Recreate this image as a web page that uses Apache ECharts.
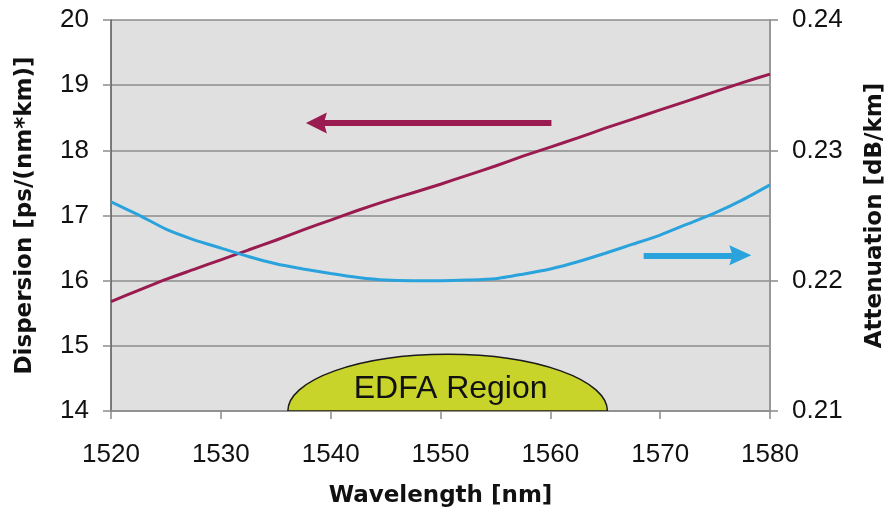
<!DOCTYPE html>
<html>
<head>
<meta charset="utf-8">
<script src="https://cdn.jsdelivr.net/npm/echarts@6/dist/echarts.min.js"></script>
<style>
  html, body { margin: 0; padding: 0; background: #ffffff; }
  #chart { width: 895px; height: 520px; }
</style>
</head>
<body>
<div id="chart"></div>
<script>
// ---- data ----
const wavelength = [1520, 1522.5, 1525, 1527.5, 1530, 1532.5, 1535, 1537.5, 1540, 1542.5, 1545, 1547.5, 1550,
                    1552.5, 1555, 1557.5, 1560, 1562.5, 1565, 1567.5, 1570, 1572.5, 1575, 1577.5, 1580];
const dispersion = [15.68, 15.85, 16.02, 16.17, 16.32, 16.47, 16.62, 16.78, 16.93, 17.08, 17.22, 17.35, 17.48,
                    17.62, 17.76, 17.91, 18.05, 18.19, 18.34, 18.48, 18.62, 18.76, 18.90, 19.04, 19.17];
const attenuation = [0.22605, 0.22505, 0.22395, 0.22315, 0.2225, 0.22185, 0.2213, 0.2209, 0.22055, 0.22025, 0.22005, 0.2200, 0.2200,
                     0.22005, 0.22015, 0.2205, 0.2209, 0.22145, 0.2221, 0.2228, 0.2235, 0.22435, 0.2252, 0.2262, 0.22735];

const xTicks = { min: 1520, max: 1580, interval: 10 };
const leftTicks = { min: 14, max: 20, interval: 1 };
const rightTicks = { min: 0.21, max: 0.24, interval: 0.01 };

const xTitle = 'Wavelength [nm]';
const leftTitle = 'Dispersion [ps/(nm*km)]';
const rightTitle = 'Attenuation [dB/km]';

// EDFA region annotation: start wavelength, end wavelength, peak dispersion value, base value
const edfaLabel = 'EDFA Region';
const edfaRegion = [1536.1, 1565.2, 14.87, 14];

// arrows: [fromX, toX, y]
const dispersionArrow = [1560.1, 1538.7, 18.42];
const attenuationArrow = [1568.5, 1577.3, 0.22195];

const RED = '#9A1B50';
const BLUE = '#2AA3DD';
const GRID = '#8c8c8c';
const ARROW_HEAD = 'path://M5,0 L10,10 L5,8.6 L0,10 Z';

const chart = echarts.init(document.getElementById('chart'), null, { renderer: 'canvas' });

const titleStyle = { fontFamily: 'DejaVu Sans', fontWeight: 'bold', fontSize: 23, color: '#111' };
const labelStyle = { fontFamily: 'Liberation Sans', fontSize: 26, color: '#111' };

const option = {
  animation: false,
  grid: { left: 111, right: 124, top: 20, bottom: 109, show: true, backgroundColor: '#E0E0E0', borderWidth: 0 },
  xAxis: {
    type: 'value', min: xTicks.min, max: xTicks.max, interval: xTicks.interval,
    name: xTitle, nameLocation: 'middle', nameGap: 74, nameTextStyle: titleStyle,
    axisLine: { show: true, onZero: false, lineStyle: { color: GRID, width: 1.5 } },
    axisTick: { show: true, length: 8, lineStyle: { color: GRID, width: 1.5 } },
    axisLabel: Object.assign({ margin: 31, formatter: v => String(v) }, labelStyle),
    splitLine: { show: false }
  },
  yAxis: [
    {
      type: 'value', position: 'left', min: leftTicks.min, max: leftTicks.max, interval: leftTicks.interval,
      name: leftTitle, nameLocation: 'middle', nameGap: 74, nameRotate: 90, nameTextStyle: titleStyle,
      axisLine: { show: true, onZero: false, lineStyle: { color: '#555', width: 1.5 } },
      axisTick: { show: true, length: 8, lineStyle: { color: GRID, width: 1.5 } },
      axisLabel: Object.assign({ margin: 22 }, labelStyle),
      splitLine: { show: true, lineStyle: { color: GRID, width: 1.5 } }
    },
    {
      type: 'value', position: 'right', min: rightTicks.min, max: rightTicks.max, interval: rightTicks.interval,
      name: rightTitle, nameLocation: 'middle', nameGap: 94, nameRotate: 90, nameTextStyle: titleStyle,
      axisLine: { show: true, onZero: false, lineStyle: { color: '#999', width: 2 } },
      axisTick: { show: true, length: 8, lineStyle: { color: GRID, width: 1.5 } },
      axisLabel: Object.assign({ margin: 22, formatter: v => v.toFixed(2) }, labelStyle),
      splitLine: { show: false }
    }
  ],
  series: [
    {
      type: 'custom',
      name: 'EDFA',
      silent: true,
      xAxisIndex: 0, yAxisIndex: 0,
      data: [edfaRegion],
      encode: { x: [0, 1], y: [2, 3] },
      clip: true,
      renderItem: function (params, api) {
        const s = api.value(0), e = api.value(1), pk = api.value(2), b = api.value(3);
        const p1 = api.coord([s, b]);
        const p2 = api.coord([e, b]);
        const t = api.coord([(s + e) / 2, pk]);
        const rx = (p2[0] - p1[0]) / 2;
        const ry = p1[1] - t[1];
        return {
          type: 'group',
          children: [
            {
              type: 'path',
              shape: { pathData: 'M' + p1[0] + ' ' + p1[1] + ' A' + rx + ' ' + ry + ' 0 0 1 ' + p2[0] + ' ' + p2[1] + ' Z' },
              style: { fill: '#C9D42B', stroke: '#1a1a1a', lineWidth: 1.5 }
            },
            {
              type: 'text',
              style: {
                text: edfaLabel, x: (p1[0] + p2[0]) / 2 + 3, y: p1[1] - ry * 0.38,
                align: 'center', verticalAlign: 'middle',
                font: '32px "Liberation Sans"', fill: '#111'
              }
            }
          ]
        };
      },
      z: 1
    },
    {
      type: 'line', name: 'Dispersion', yAxisIndex: 0,
      data: wavelength.map((w, i) => [w, dispersion[i]]),
      showSymbol: false, smooth: 0.2,
      lineStyle: { color: RED, width: 3 },
      itemStyle: { color: RED },
      markLine: {
        silent: true, animation: false,
        symbol: ['none', ARROW_HEAD], symbolSize: [21, 21],
        label: { show: false },
        lineStyle: { color: RED, width: 6, type: 'solid' },
        emphasis: { disabled: true },
        data: [[{ coord: [dispersionArrow[0], dispersionArrow[2]] }, { coord: [dispersionArrow[1], dispersionArrow[2]] }]]
      },
      z: 3
    },
    {
      type: 'line', name: 'Attenuation', yAxisIndex: 1,
      data: wavelength.map((w, i) => [w, attenuation[i]]),
      showSymbol: false, smooth: 0.2,
      lineStyle: { color: BLUE, width: 3 },
      itemStyle: { color: BLUE },
      markLine: {
        silent: true, animation: false,
        symbol: ['none', ARROW_HEAD], symbolSize: [20, 22],
        label: { show: false },
        lineStyle: { color: BLUE, width: 6, type: 'solid' },
        emphasis: { disabled: true },
        data: [[{ coord: [attenuationArrow[0], attenuationArrow[2]] }, { coord: [attenuationArrow[1], attenuationArrow[2]] }]]
      },
      z: 3
    }
  ]
};

chart.setOption(option);
</script>
</body>
</html>
